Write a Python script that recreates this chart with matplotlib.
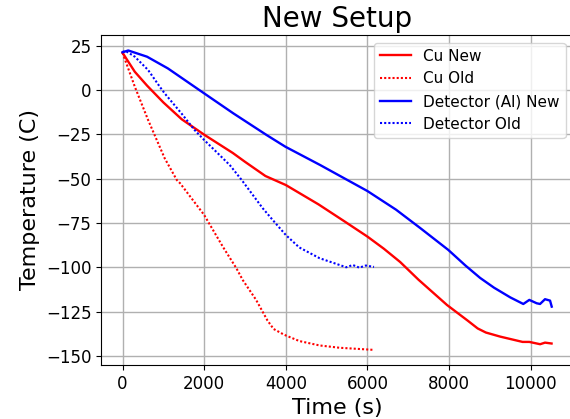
import matplotlib
matplotlib.use("Agg")
import matplotlib.pyplot as plt

# Cu, new setup
cu_new_t = [0, 300, 600, 1000, 1450, 2000, 2700, 3000, 3500, 4000, 4800, 5450, 6000,
            6400, 6800, 7250, 7950, 8450, 8700, 8900, 9250, 9800, 9965, 10230, 10350, 10510]
cu_new_T = [21, 10.3, 2.5, -7, -16.5, -25.2, -35.5, -40.5, -48.5, -53.6, -64.5, -74.3, -82.7,
            -89.5, -97, -107, -121.3, -130, -134.5, -136.8, -139.1, -142.1, -142.1, -143.4, -142.5, -143]

# Cu, old setup
cu_old_t = [0, 300, 626, 1032, 1330, 1410, 2000, 2457, 2790, 2945, 3272, 3550, 3700, 3963,
            4329, 4829, 5317, 6160]
cu_old_T = [21, 1.9, -16.9, -38.5, -50.8, -52.6, -70.5, -88.4, -100.6, -107.2, -118.4, -130, -134.8, -138.1,
            -141.6, -144.1, -145.4, -146.6]

# detector (Al), new setup
det_new_t = [0, 140, 600, 1110, 2000, 2710, 3530, 3990, 4840, 6000, 6700, 7300, 7980,
             8400, 8760, 9100, 9500, 9818, 9965, 10146, 10228, 10350, 10473, 10514]
det_new_T = [21.3, 22.3, 18.8, 12.2, -1.9, -13.1, -25.4, -32, -42.3, -57, -67.5, -78, -90.2,
             -99, -106, -111.5, -117, -120.7, -118.4, -120.3, -120.7, -118, -118.8, -122.2]

# detector, old setup
det_old_t = [0, 80, 300, 626, 911, 1032, 1440, 1766, 2000, 2418, 2633, 2920, 3434, 3678,
             4000, 4329, 4829, 5317, 5480, 5640, 5800, 5960, 6160]
det_old_T = [21.5, 22, 18.8, 11.3, 1.9, -1.9, -13.1, -22.6, -28.2, -37.6, -42.5, -50.8, -66.7, -73.3,
             -81.8, -88.8, -94.9, -98.7, -100, -98.7, -100.2, -99, -99.8]

fig = plt.figure(figsize=(5.7, 4.19), dpi=100)
ax = fig.add_axes([0.1774, 0.1294, 0.8282, 0.7869])

ax.plot(cu_new_t, cu_new_T, color='red', lw=1.7, label='Cu New')
ax.plot(cu_old_t, cu_old_T, color='red', lw=1.5, ls=(0, (1, 1)), label='Cu Old')
ax.plot(det_new_t, det_new_T, color='blue', lw=1.7, label='Detector (Al) New')
ax.plot(det_old_t, det_old_T, color='blue', lw=1.5, ls=(0, (1, 1)), label='Detector Old')

ax.set_xlim(-525, 11040)
ax.set_ylim(-155, 31)
ax.set_xticks([0, 2000, 4000, 6000, 8000, 10000])
ax.set_yticks([25, 0, -25, -50, -75, -100, -125, -150])
ax.tick_params(labelsize=12)
ax.grid(True, lw=1)

ax.set_title('New Setup', fontsize=20)
ax.set_xlabel('Time (s)', fontsize=16)
ax.set_ylabel('Temperature (C)', fontsize=16)
ax.legend(loc='upper right', fontsize=11)

fig.savefig('out.png', dpi=100)
